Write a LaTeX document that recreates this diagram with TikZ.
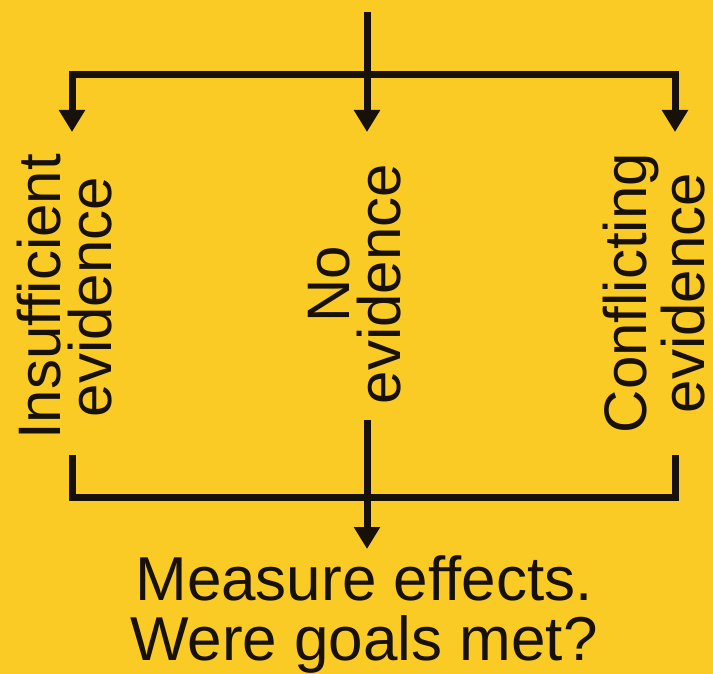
\documentclass[tikz,border=0pt]{standalone}
\usepackage{fontspec}
\setmainfont{Liberation Sans}
\usetikzlibrary{arrows.meta}
\definecolor{bg}{HTML}{FACB24}
\definecolor{ink}{HTML}{17110A}
\tikzset{
  link/.style={draw=ink, line width=3.5pt},
  arrow/.style={link, -{Triangle[length=11pt, width=12.5pt]}},
  vtext/.style={
    rotate=90, align=center, text=ink, inner sep=0pt,
    font=\fontsize{30}{25.5}\selectfont
  },
  htext/.style={
    align=center, text=ink, inner sep=0pt,
    font=\fontsize{31}{30}\selectfont
  }
}
\begin{document}
\begin{tikzpicture}[x=0.5pt, y=-0.5pt]
    \fill[bg] (0,0) rectangle (713,674);
    % branch points
    \coordinate (top) at (367,12);
    \coordinate (split) at (367,75);
    \coordinate (inTip) at (72,132);
    \coordinate (noTip) at (367,132);
    \coordinate (cfTip) at (675,132);
    \coordinate (inBot) at (72,455);
    \coordinate (noBot) at (367,420);
    \coordinate (cfBot) at (675,455);
    \coordinate (merge) at (367,497);
    \coordinate (outTip) at (367,549);
    % the three cases
    \node[vtext] (insuf) at (65,297) {Insufficient\\evidence};
    \node[vtext] (noev) at (355,284) {No\\evidence};
    \node[vtext] (confl) at (654,293) {Conflicting\\evidence};
    \node[htext, anchor=north] (goals) at (364,555) {Measure effects.\\Were goals met?};
    % fan out
    \draw[link] (top) -- (split);
    \draw[arrow] (split) -| (inTip);
    \draw[arrow] (split) -| (cfTip);
    \draw[arrow] (split) -- (noTip);
    % fan in
    \draw[link] (inBot) -- (inBot |- merge) -- (cfBot |- merge) -- (cfBot);
    \draw[arrow] (noBot) -- (outTip);
\end{tikzpicture}
\end{document}
